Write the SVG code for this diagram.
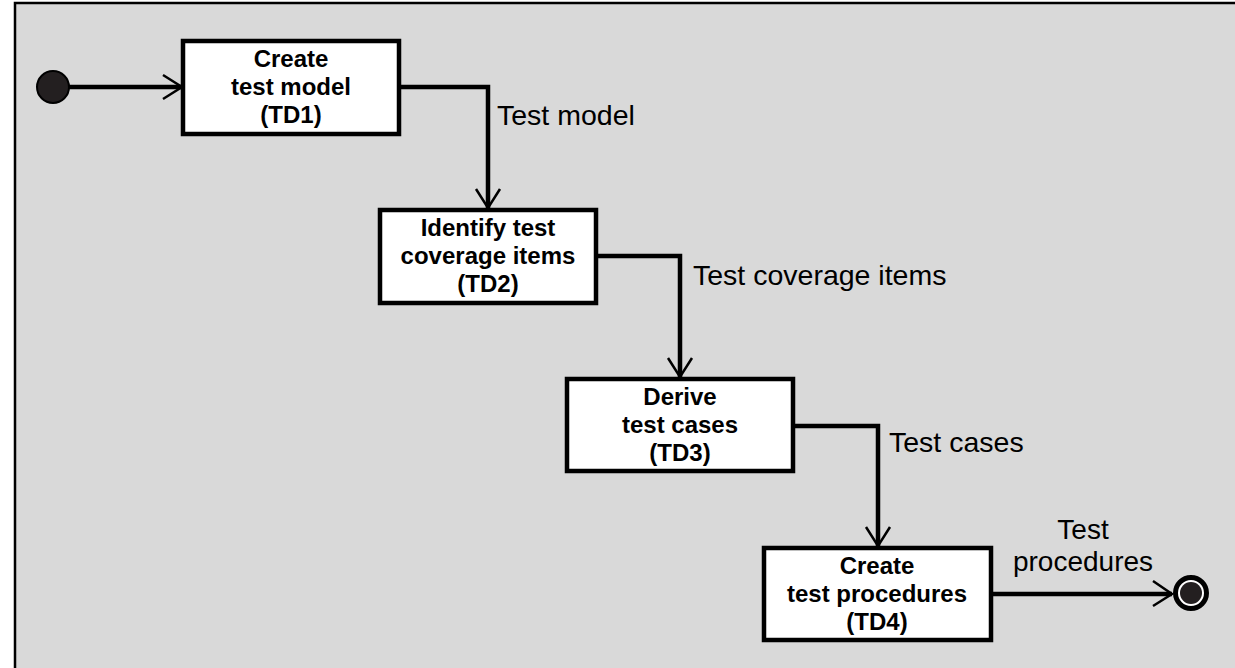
<svg xmlns="http://www.w3.org/2000/svg" width="1235" height="668" viewBox="0 0 1235 668">
<style>
.box{fill:#fff;stroke:#000;stroke-width:4.5}
.bt{font-family:"Liberation Sans",Arial,sans-serif;font-weight:bold;font-size:24px;text-anchor:middle;fill:#000}
.lb{font-family:"Liberation Sans",Arial,sans-serif;font-size:28.5px;fill:#000}
.ln{fill:none;stroke:#000;stroke-width:4.5}
.ah{fill:none;stroke:#000;stroke-width:2.5}
</style>
<rect x="0" y="0" width="1235" height="668" fill="#fff"/>
<rect x="15" y="3" width="1222" height="668" fill="#d9d9d9" stroke="#000" stroke-width="2.5"/>
<g id="start"><circle cx="53" cy="87" r="16" fill="#231f20" stroke="#000" stroke-width="2"/></g>
<g id="td1"><rect class="box" x="183" y="41" width="216" height="93"/>
<text class="bt" x="291" y="67">Create</text><text class="bt" x="291" y="95">test model</text><text class="bt" x="291" y="123">(TD1)</text></g>
<g id="td2"><rect class="box" x="380" y="210" width="216" height="93"/>
<text class="bt" x="488" y="236">Identify test</text><text class="bt" x="488" y="264">coverage items</text><text class="bt" x="488" y="292">(TD2)</text></g>
<g id="td3"><rect class="box" x="567" y="379" width="226" height="92"/>
<text class="bt" x="680" y="405">Derive</text><text class="bt" x="680" y="433">test cases</text><text class="bt" x="680" y="461">(TD3)</text></g>
<g id="td4"><rect class="box" x="764" y="548" width="227" height="92"/>
<text class="bt" x="877" y="574">Create</text><text class="bt" x="877" y="602">test procedures</text><text class="bt" x="877" y="630">(TD4)</text></g>
<g id="end"><circle cx="1191" cy="593" r="15.5" fill="#fff" stroke="#000" stroke-width="5"/><circle cx="1191" cy="593" r="11" fill="#231f20"/></g>
<g id="connectors">
<path class="ln" d="M69 87H182"/><path class="ah" d="M163 75L182 87L163 99"/>
<path class="ln" d="M399 87H488V208"/><path class="ah" d="M476 189L488 208L500 189"/>
<path class="ln" d="M596 256H680V377"/><path class="ah" d="M668 358L680 377L692 358"/>
<path class="ln" d="M793 426H878V546"/><path class="ah" d="M866 527L878 546L890 527"/>
<path class="ln" d="M991 594H1172"/><path class="ah" d="M1153 581L1172 594L1153 606"/>
</g>
<text class="lb" x="497" y="125">Test model</text>
<text class="lb" x="693" y="285">Test coverage items</text>
<text class="lb" x="889" y="452">Test cases</text>
<text class="lb" x="1083" y="539" text-anchor="middle" style="font-size:28px">Test</text>
<text class="lb" x="1083" y="571" text-anchor="middle" style="font-size:28px">procedures</text>
</svg>
